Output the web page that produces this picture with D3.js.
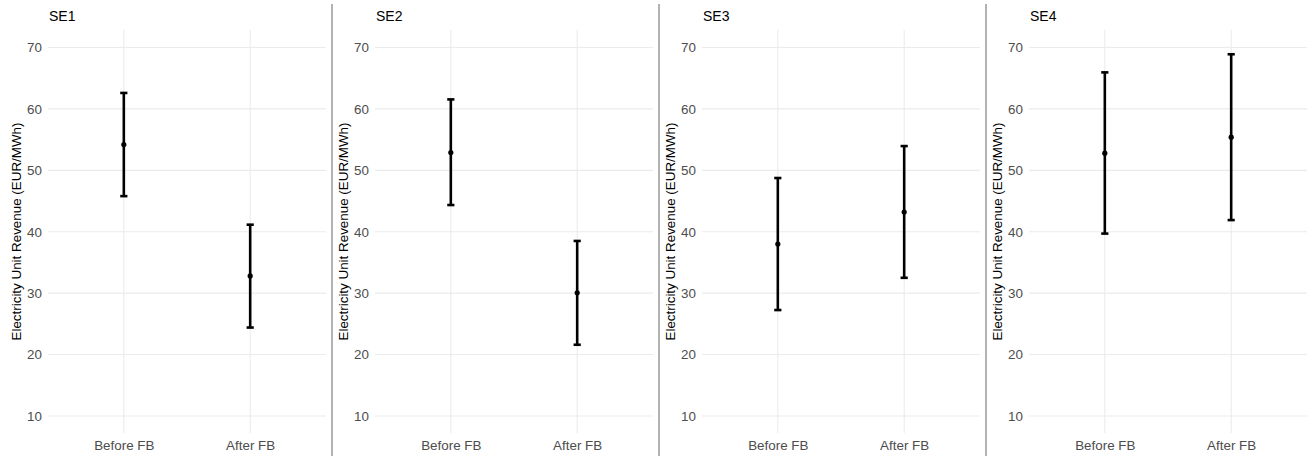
<!DOCTYPE html>
<html lang="en">
<head>
<meta charset="UTF-8">
<title>Electricity Unit Revenue by zone</title>
<script src="https://d3js.org/d3.v7.min.js"></script>
<style>
  body { margin: 0; background: #fff; }
  svg { display: block; font-family: "Liberation Sans", Arial, sans-serif; }
</style>
</head>
<body>
<svg id="chart"></svg>
<script>
// data
var zones = ["SE1", "SE2", "SE3", "SE4"];
var periods = ["Before FB", "After FB"];
var meanBefore = [54.2, 52.9, 38.0, 52.8];
var lowBefore  = [45.8, 44.35, 27.25, 39.7];
var highBefore = [62.6, 61.55, 48.75, 65.95];
var meanAfter  = [32.8, 30.05, 43.2, 55.4];
var lowAfter   = [24.4, 21.6, 32.5, 41.9];
var highAfter  = [41.15, 38.5, 53.95, 68.9];
var yTicks = [10, 20, 30, 40, 50, 60, 70];

var width = 1316, height = 456;
var panelStep = 327;
var svg = d3.select("#chart").attr("width", width).attr("height", height);

// panel inner box (relative to each panel's origin)
var pLeft = 48, pRight = 326, pTop = 30, pBottom = 433;

var y = d3.scaleLinear().domain([7.23, 72.85]).range([pBottom, pTop]);
var x = d3.scalePoint().domain(periods).range([pLeft, pRight]).padding(0.6);

zones.forEach(function (zone, i) {
    var g = svg.append("g").attr("transform", "translate(" + (i * panelStep) + ",0)");

    var rows = [
        { period: periods[0], mean: meanBefore[i], lo: lowBefore[i], hi: highBefore[i] },
        { period: periods[1], mean: meanAfter[i], lo: lowAfter[i], hi: highAfter[i] }
    ];

    // horizontal grid
    g.selectAll(".hgrid").data(yTicks).enter().append("line")
        .attr("x1", pLeft).attr("x2", pRight)
        .attr("y1", function (d) { return y(d); })
        .attr("y2", function (d) { return y(d); })
        .style("stroke", "#ebebeb").style("stroke-width", 1.1);

    // vertical grid
    g.selectAll(".vgrid").data(periods).enter().append("line")
        .attr("x1", function (d) { return x(d); })
        .attr("x2", function (d) { return x(d); })
        .attr("y1", pTop).attr("y2", pBottom)
        .style("stroke", "#ebebeb").style("stroke-width", 1.1);

    // y axis labels
    var yAxis = d3.axisLeft(y).tickValues(yTicks).tickSize(0).tickPadding(6);
    var ya = g.append("g").attr("transform", "translate(" + pLeft + ",0)").call(yAxis);
    ya.select(".domain").remove();
    ya.selectAll("text").style("font-size", "13.4px").style("fill", "#4d4d4d")
        .style("font-family", "'Liberation Sans', Arial, sans-serif");

    // x axis labels
    var xAxis = d3.axisBottom(x).tickSize(0).tickPadding(0);
    var xa = g.append("g").attr("transform", "translate(0," + (pBottom + 7) + ")").call(xAxis);
    xa.select(".domain").remove();
    xa.selectAll("text").style("font-size", "13.4px").style("fill", "#4d4d4d")
        .style("font-family", "'Liberation Sans', Arial, sans-serif");

    // y axis title
    g.append("text")
        .attr("transform", "translate(21," + ((pTop + pBottom) / 2) + ")rotate(-90)")
        .attr("text-anchor", "middle")
        .style("font-size", "13.4px")
        .text("Electricity Unit Revenue (EUR/MWh)");

    // panel title
    g.append("text")
        .attr("x", pLeft + 1).attr("y", 21)
        .style("font-size", "14px")
        .text(zone);

    // error bars
    var bars = g.selectAll(".bar").data(rows).enter().append("g");
    bars.append("line")
        .attr("x1", function (d) { return x(d.period); })
        .attr("x2", function (d) { return x(d.period); })
        .attr("y1", function (d) { return y(d.lo); })
        .attr("y2", function (d) { return y(d.hi); })
        .style("stroke", "#000").style("stroke-width", 2.6);
    ["lo", "hi"].forEach(function (k) {
        bars.append("line")
            .attr("x1", function (d) { return x(d.period) - 3.6; })
            .attr("x2", function (d) { return x(d.period) + 3.6; })
            .attr("y1", function (d) { return y(d[k]); })
            .attr("y2", function (d) { return y(d[k]); })
            .style("stroke", "#000").style("stroke-width", 2.6);
    });
    bars.append("circle")
        .attr("cx", function (d) { return x(d.period); })
        .attr("cy", function (d) { return y(d.mean); })
        .attr("r", 2.6)
        .style("fill", "#000");

    // separator between panels
    if (i > 0) {
        g.append("line")
            .attr("x1", 5).attr("x2", 5)
            .attr("y1", 4).attr("y2", height)
            .style("stroke", "#7f7f7f").style("stroke-width", 1.2);
    }
});
</script>
</body>
</html>
